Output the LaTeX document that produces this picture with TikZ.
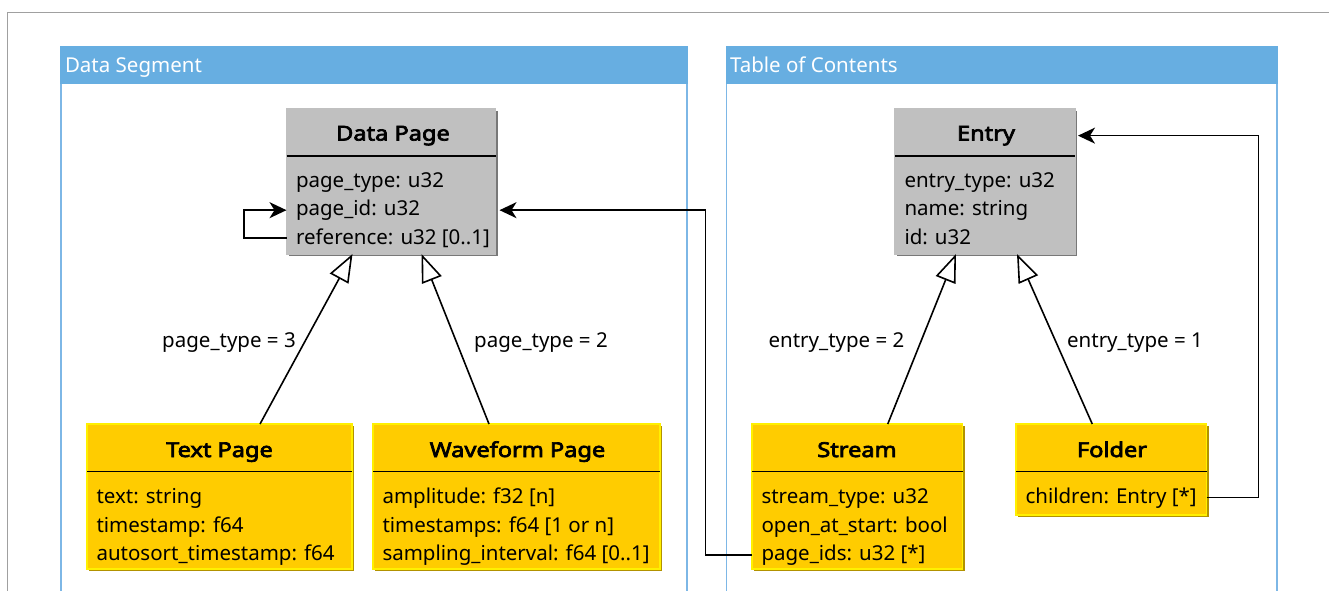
\documentclass[tikz,border=0pt]{standalone}
\usepackage{fontspec}
\setmainfont{Noto Sans}[BoldFont={Noto Sans}, BoldFeatures={FakeBold=3.5, FakeStretch=1.15}]
\usetikzlibrary{arrows.meta}
\definecolor{hdrblue}{RGB}{103,174,225}
\definecolor{lineblue}{RGB}{125,183,230}
\definecolor{gold}{RGB}{255,204,0}
\definecolor{goldedge}{RGB}{255,240,0}
\definecolor{goldshadow}{RGB}{178,146,0}
\definecolor{boxgray}{RGB}{192,192,192}
\definecolor{grayshadow}{RGB}{120,120,120}
\definecolor{framegray}{RGB}{160,160,160}
\tikzset{
  every node/.style={font=\fontsize{20.5}{24}\selectfont, inner sep=0pt, outer sep=0pt},
  classbox/.style={rectangle, anchor=north west, line width=1.2pt},
  yellowbox/.style={classbox, fill=gold, draw=goldedge,
    preaction={fill=goldshadow, transform canvas={xshift=2.2pt, yshift=-2.2pt}}},
  graybox/.style={classbox, fill=boxgray, draw=boxgray,
    preaction={fill=grayshadow, transform canvas={xshift=2.2pt, yshift=-2.2pt}}},
  classtitle/.style={anchor=base, font=\fontsize{20.5}{24}\selectfont\bfseries},
  attr/.style={anchor=base west},
  sep/.style={line width=1.6pt, black},
  container/.style={rectangle, anchor=north west, draw=lineblue, line width=1.5pt, fill=white},
  hdr/.style={rectangle, anchor=north west, fill=hdrblue},
  hdrtext/.style={anchor=base west, text=white},
  assoc/.style={line width=1.6pt, -{Stealth[length=17pt, width=16pt, inset=5pt]}},
  inh/.style={line width=1.6pt, -{Triangle[open, length=28pt, width=21pt, fill=white]}},
  lbl/.style={anchor=base},
}
\begin{document}
\begin{tikzpicture}[x=1pt,y=-1pt]
\clip (0,0) rectangle (1329,590);
\fill[white] (0,0) rectangle (1329,590);
% outer frame
\draw[framegray, line width=1.2pt] (7.5,600) -- (7.5,12.5) -- (1340,12.5);

% containers
\node[container, minimum width=626pt, minimum height=600pt] (ds) at (61,47) {};
\node[hdr, minimum width=627.5pt, minimum height=38pt] (dsh) at (60.25,46.25) {};
\node[hdrtext] (dsl) at (65,72.5) {Data Segment};
\node[container, minimum width=550.5pt, minimum height=600pt] (toc) at (726.5,47) {};
\node[hdr, minimum width=552pt, minimum height=38pt] (toch) at (725.75,46.25) {};
\node[hdrtext] (tocl) at (730,72.5) {Table of Contents};

% Data Page
\node[graybox, minimum width=209pt, minimum height=145pt] (dp) at (286.5,109) {};
\draw[sep] ([yshift=-47pt]dp.north west) -- ([yshift=-47pt]dp.north east);
\node[classtitle] (dpt) at (393,140.5) {Data Page};
\node[attr] (dpa1) at (296,187) {page\_type: u32};
\node[attr] (dpa2) at (296,215.5) {page\_id: u32};
\node[attr] (dpa3) at (296,244) {reference: u32 [0..1]};

% Entry
\node[graybox, minimum width=180pt, minimum height=145pt] (en) at (895,109) {};
\draw[sep] ([yshift=-47pt]en.north west) -- ([yshift=-47pt]en.north east);
\node[classtitle] (ent) at (986,140.5) {Entry};
\node[attr] (ena1) at (904.5,187) {entry\_type: u32};
\node[attr] (ena2) at (904.5,215.5) {name: string};
\node[attr] (ena3) at (904.5,244) {id: u32};

% Text Page
\node[yellowbox, minimum width=265pt, minimum height=145pt] (tp) at (87,424) {};
\draw[sep] ([yshift=-47.5pt]tp.north west) -- ([yshift=-47.5pt]tp.north east);
\node[classtitle] (tpt) at (219.5,457) {Text Page};
\node[attr] (tpa1) at (96.5,503) {text: string};
\node[attr] (tpa2) at (96.5,532) {timestamp: f64};
\node[attr] (tpa3) at (96.5,560.5) {autosort\_timestamp: f64};

% Waveform Page
\node[yellowbox, minimum width=287pt, minimum height=145pt] (wp) at (373,424) {};
\draw[sep] ([yshift=-47.5pt]wp.north west) -- ([yshift=-47.5pt]wp.north east);
\node[classtitle] (wpt) at (517.5,457) {Waveform Page};
\node[attr] (wpa1) at (382.5,503) {amplitude: f32 [n]};
\node[attr] (wpa2) at (382.5,532) {timestamps: f64 [1 or n]};
\node[attr] (wpa3) at (382.5,560.5) {sampling\_interval: f64 [0..1]};

% Stream
\node[yellowbox, minimum width=210.5pt, minimum height=145pt] (st) at (752,424) {};
\draw[sep] ([yshift=-47.5pt]st.north west) -- ([yshift=-47.5pt]st.north east);
\node[classtitle] (stt) at (857,457) {Stream};
\node[attr] (sta1) at (761.5,503) {stream\_type: u32};
\node[attr] (sta2) at (761.5,532) {open\_at\_start: bool};
\node[attr] (sta3) at (761.5,560.5) {page\_ids: u32 [*]};

% Folder
\node[yellowbox, minimum width=190.5pt, minimum height=91pt] (fo) at (1016,424) {};
\draw[sep] ([yshift=-47.5pt]fo.north west) -- ([yshift=-47.5pt]fo.north east);
\node[classtitle] (fot) at (1112,457) {Folder};
\node[attr] (foa1) at (1025.5,503) {children: Entry [*]};

% associations
\coordinate (loopa) at (244,0);
\coordinate (loopb) at (705.5,0);
\coordinate (loopc) at (1258.5,0);
\draw[assoc] (dp.west |- dpa3) -- (loopa |- dpa3) -- (loopa |- dpa2) -- (dp.west |- dpa2);
\draw[assoc] (st.west |- sta3) -- (loopb |- sta3) -- (loopb |- dpa2) -- ([xshift=4pt]dp.east |- dpa2);
\draw[assoc] (fo.east |- foa1) -- (loopc |- foa1) -- (loopc |- ent) -- ([xshift=3pt]en.east |- ent);

% generalizations
\draw[inh] ([xshift=40.5pt]tp.north) -- ([xshift=-38.5pt]dp.south);
\draw[inh] ([xshift=-27.5pt]wp.north) -- ([xshift=30.5pt]dp.south);
\draw[inh] ([xshift=30.5pt]st.north) -- ([xshift=-29pt]en.south);
\draw[inh] ([xshift=-19pt]fo.north) -- ([xshift=32pt]en.south);
\node[lbl] (l1) at (229,347) {page\_type = 3};
\node[lbl] (l2) at (541,347) {page\_type = 2};
\node[lbl] (l3) at (836.5,347) {entry\_type = 2};
\node[lbl] (l4) at (1135,347) {entry\_type = 1};
\end{tikzpicture}
\end{document}
